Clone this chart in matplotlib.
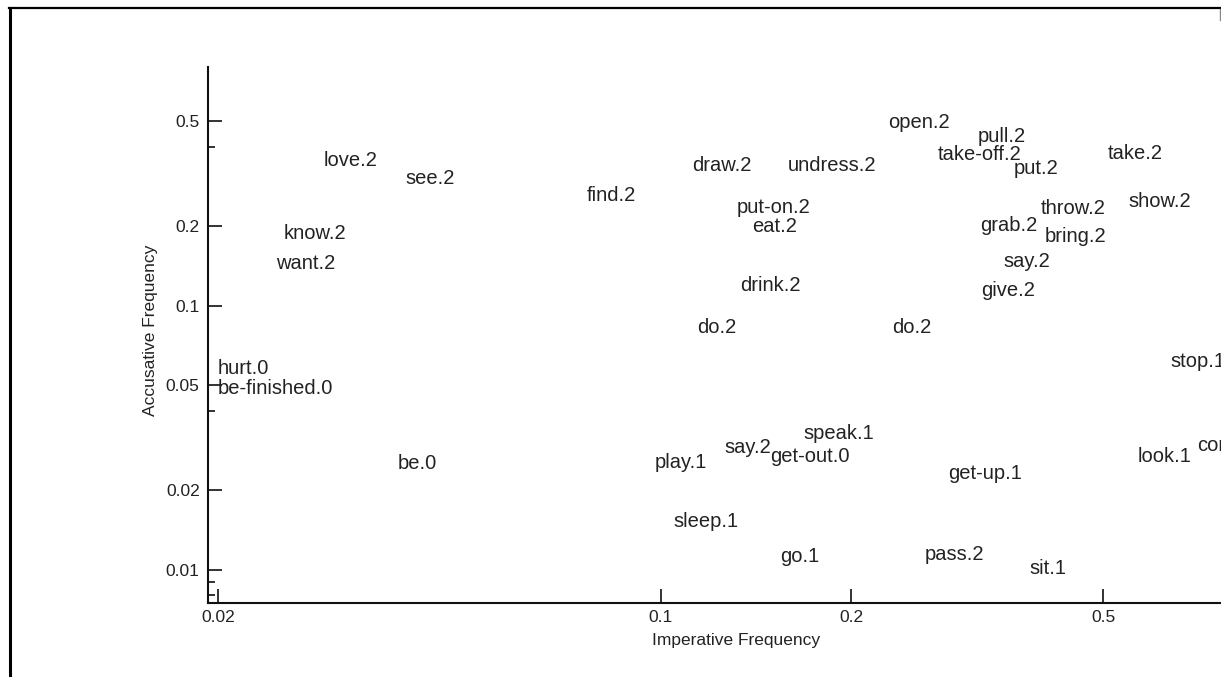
import matplotlib
matplotlib.use("Agg")
import matplotlib.pyplot as plt
from matplotlib.lines import Line2D
from matplotlib.ticker import FixedLocator, NullFormatter

# verb labels with imperative / accusative frequency
labels = ["open.2", "pull.2", "take-off.2", "put.2", "take.2", "show.2",
          "throw.2", "grab.2", "bring.2", "say.2", "give.2",
          "love.2", "see.2", "know.2", "want.2", "find.2",
          "draw.2", "undress.2", "put-on.2", "eat.2", "drink.2",
          "do.2", "do.2", "hurt.0", "be-finished.0", "be.0",
          "stop.1", "look.1", "come.1", "play.1", "say.2", "get-out.0",
          "speak.1", "get-up.1", "sleep.1", "go.1", "pass.2", "sit.1"]
imperative = [0.229, 0.3175, 0.2744, 0.3618, 0.5094, 0.548,
              0.399, 0.3198, 0.405, 0.3478, 0.321,
              0.0294, 0.0395, 0.0254, 0.0247, 0.0765,
              0.1122, 0.159, 0.1321, 0.1395, 0.1335,
              0.1142, 0.2322, 0.02, 0.02, 0.0385,
              0.638, 0.568, 0.704, 0.098, 0.126, 0.149,
              0.168, 0.2846, 0.1047, 0.1544, 0.2618, 0.382]
accusative = [0.4956, 0.435, 0.3717, 0.3318, 0.378, 0.2467,
              0.2321, 0.2001, 0.1833, 0.1462, 0.1145,
              0.3557, 0.3041, 0.1882, 0.1449, 0.2622,
              0.3406, 0.3406, 0.2361, 0.1984, 0.1196,
              0.0829, 0.0829, 0.0575, 0.0487, 0.0253,
              0.0616, 0.0267, 0.0294, 0.0255, 0.0291, 0.0267,
              0.0329, 0.0232, 0.01514, 0.01116, 0.01145, 0.01013]

x_ticks = [0.02, 0.1, 0.2, 0.5]
x_ticklabels = ["0.02", "0.1", "0.2", "0.5"]
y_ticks = [0.01, 0.02, 0.05, 0.1, 0.2, 0.5]
y_ticklabels = ["0.01", "0.02", "0.05", "0.1", "0.2", "0.5"]
y_minor = [0.008, 0.009, 0.04, 0.4]

W, H = 1221, 677
fig = plt.figure(figsize=(W / 100, H / 100), dpi=100)
fig.patch.set_facecolor("white")

# axes runs past the right edge of the picture (cropped figure)
ax = fig.add_axes([208 / W, (H - 603) / H, (1264 - 208) / W, (603 - 67) / H])
ax.set_xscale("log")
ax.set_yscale("log")
ax.set_xlim(0.01928, 0.898)
ax.set_ylim(0.00747, 0.8007)

for lab, xv, yv in zip(labels, imperative, accusative):
    ax.text(xv, yv, lab, ha="left", va="center", fontsize=14.5,
            family="Liberation Sans", color="#222222", clip_on=False)

ax.spines["top"].set_visible(False)
ax.spines["right"].set_visible(False)
for s in ["left", "bottom"]:
    ax.spines[s].set_linewidth(1.5)
    ax.spines[s].set_color("#111111")

ax.xaxis.set_major_locator(FixedLocator(x_ticks))
ax.set_xticklabels(x_ticklabels)
ax.xaxis.set_minor_locator(FixedLocator([]))
ax.yaxis.set_major_locator(FixedLocator(y_ticks))
ax.set_yticklabels(y_ticklabels)
ax.yaxis.set_minor_locator(FixedLocator(y_minor))
ax.yaxis.set_minor_formatter(NullFormatter())

ax.tick_params(axis="both", which="major", direction="in", length=10,
               width=1.2, color="#111111", labelsize=12.5, pad=6)
ax.tick_params(axis="y", which="minor", direction="in", length=5,
               width=1.2, color="#111111")
ax.tick_params(axis="x", which="major", pad=5)
for t in ax.get_xticklabels() + ax.get_yticklabels():
    t.set_family("Liberation Sans")
    t.set_color("#222222")

lab_font = dict(family=["Liberation Sans Narrow", "Liberation Sans"], fontsize=12.5,
                color="#222222")
fig.text(736 / W, 1 - 640 / H, "Imperative Frequency", ha="center", va="center", **lab_font)
fig.text(150 / W, 1 - 330 / H, "Accusative Frequency", ha="center", va="center",
         rotation=90, **lab_font)

# outer frame (top and left edges visible)
fig.add_artist(Line2D([9 / W, 1], [1 - 8 / H, 1 - 8 / H], transform=fig.transFigure,
                      color="black", linewidth=1.6))
fig.add_artist(Line2D([10 / W, 10 / W], [0, 1 - 8 / H], transform=fig.transFigure,
                      color="black", linewidth=2.2))
fig.add_artist(Line2D([1220 / W, 1220 / W], [1 - 9 / H, 1 - 20 / H], transform=fig.transFigure,
                      color="#888888", linewidth=1.0))

fig.savefig("out.png", dpi=100)
